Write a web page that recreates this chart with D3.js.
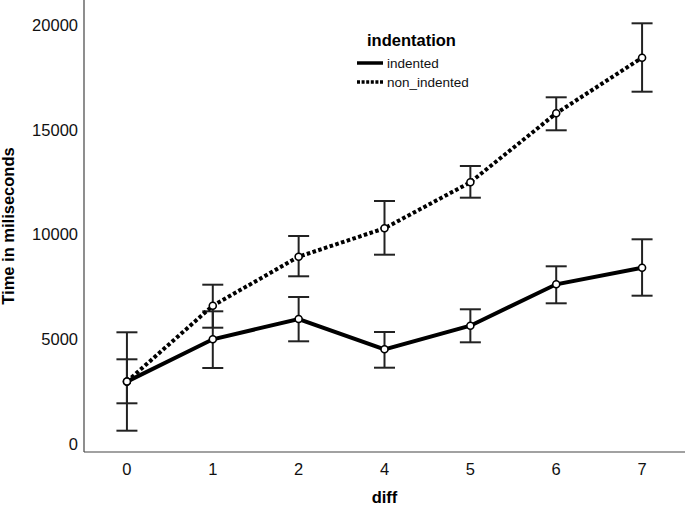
<!DOCTYPE html>
<html>
<head>
<meta charset="utf-8">
<script src="https://cdn.jsdelivr.net/npm/d3@7"></script>
<style>
  html, body { margin: 0; padding: 0; background: #fff; }
  svg { display: block; font-family: "Liberation Sans", Arial, sans-serif; }
</style>
</head>
<body>
<svg id="chart" width="685" height="511"></svg>
<script>
// ---- data ----
const categories = ["0", "1", "2", "4", "5", "6", "7"];
const indentedMean = [2979, 4998, 5967, 4520, 5647, 7623, 8415];
const indentedLow  = [635, 3628, 4902, 3642, 4854, 6716, 7079];
const indentedHigh = [5332, 6334, 7017, 5346, 6430, 8482, 9771];
const nonIndentedMean = [2983, 6601, 8940, 10296, 12492, 15785, 18439];
const nonIndentedLow  = [1943, 5551, 8005, 9036, 11757, 14974, 16816];
const nonIndentedHigh = [4043, 7604, 9928, 11599, 13270, 16549, 20081];
const yTicks = [0, 5000, 10000, 15000, 20000];
const seriesNames = ["indented", "non_indented"];
const legendTitle = "indentation";
const xTitle = "diff";
const yTitle = "Time in miliseconds";

const series = [
  { name: seriesNames[0], mean: indentedMean, low: indentedLow, high: indentedHigh, dash: null },
  { name: seriesNames[1], mean: nonIndentedMean, low: nonIndentedLow, high: nonIndentedHigh, dash: "3.6,2.4" }
];

// ---- layout ----
const svg = d3.select("#chart");
const left = 84, right = 685, axisY = 452;
const x = d3.scalePoint().domain(categories).range([left, right]).padding(0.5);
const y = d3.scaleLinear().domain([0, 20000]).range([444, 25]);

// axes lines
svg.append("line").attr("x1", left).attr("x2", left).attr("y1", 0).attr("y2", axisY)
  .attr("stroke", "#444").attr("stroke-width", 1.2);
svg.append("line").attr("x1", left).attr("x2", right).attr("y1", axisY).attr("y2", axisY)
  .attr("stroke", "#444").attr("stroke-width", 1.2);

// y tick labels
svg.append("g").selectAll("text").data(yTicks).join("text")
  .attr("x", 78).attr("y", d => y(d)).attr("dy", "0.36em")
  .attr("text-anchor", "end").attr("font-size", 16.5).attr("fill", "#111")
  .text(d => d);

// x tick labels
svg.append("g").selectAll("text").data(categories).join("text")
  .attr("x", d => x(d)).attr("y", 475)
  .attr("text-anchor", "middle").attr("font-size", 16.5).attr("fill", "#111")
  .text(d => d);

// axis titles
svg.append("text").attr("x", (left + right) / 2).attr("y", 503)
  .attr("text-anchor", "middle").attr("font-size", 16.5).attr("font-weight", "bold")
  .text(xTitle);
svg.append("text").attr("transform", "translate(14,226) rotate(-90)")
  .attr("text-anchor", "middle").attr("font-size", 16.5).attr("font-weight", "bold")
  .text(yTitle);

// error bars
const capW = 10.5;
series.forEach(s => {
  const g = svg.append("g").attr("stroke", "#222").attr("stroke-width", 2).attr("fill", "none");
  categories.forEach((c, i) => {
    const cx = x(c);
    g.append("line").attr("x1", cx).attr("x2", cx).attr("y1", y(s.low[i])).attr("y2", y(s.high[i]));
    g.append("line").attr("x1", cx - capW).attr("x2", cx + capW).attr("y1", y(s.low[i])).attr("y2", y(s.low[i]));
    g.append("line").attr("x1", cx - capW).attr("x2", cx + capW).attr("y1", y(s.high[i])).attr("y2", y(s.high[i]));
  });
});

// lines
const line = d3.line().x((d, i) => x(categories[i])).y(d => y(d));
series.forEach(s => {
  const p = svg.append("path").datum(s.mean).attr("d", line)
    .attr("fill", "none").attr("stroke", "#000").attr("stroke-width", 4);
  if (s.dash) p.attr("stroke-dasharray", s.dash);
});

// markers
series.forEach(s => {
  svg.append("g").selectAll("circle").data(s.mean).join("circle")
    .attr("cx", (d, i) => x(categories[i])).attr("cy", d => y(d)).attr("r", 3.5)
    .attr("fill", "#fff").attr("stroke", "#000").attr("stroke-width", 1.6);
});

// legend
const lg = svg.append("g");
lg.append("text").attr("x", 367).attr("y", 46).attr("font-size", 16.5).attr("font-weight", "bold")
  .text(legendTitle);
series.forEach((s, i) => {
  const ly = 63 + i * 19;
  const l = lg.append("line").attr("x1", 357).attr("x2", 383).attr("y1", ly).attr("y2", ly)
    .attr("stroke", "#000").attr("stroke-width", 3.5);
  if (s.dash) l.attr("stroke-dasharray", "3,1.6");
  lg.append("text").attr("x", 387).attr("y", ly).attr("dy", "0.35em")
    .attr("font-size", 13.5).attr("fill", "#111").text(s.name);
});
</script>
</body>
</html>
